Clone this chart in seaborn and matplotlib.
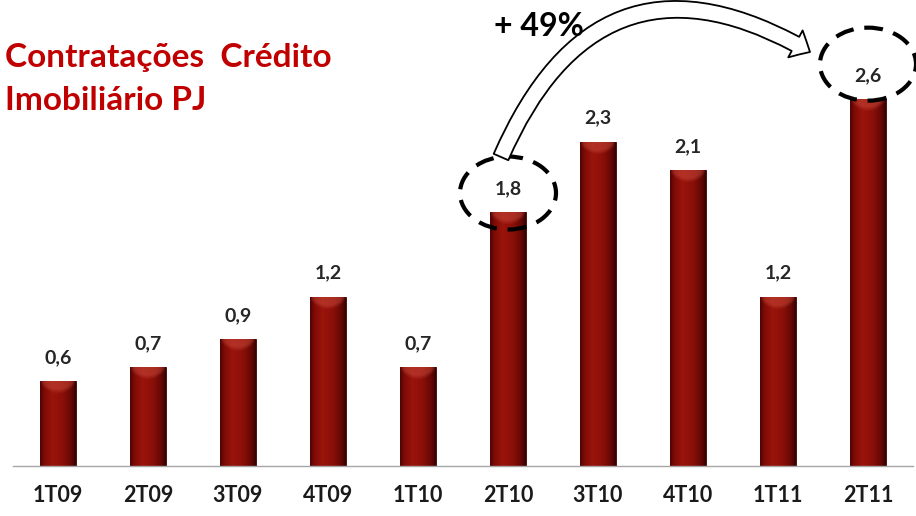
import numpy as np
import pandas as pd
import matplotlib
matplotlib.use("Agg")
import matplotlib.pyplot as plt
import seaborn as sns
from matplotlib.patches import Ellipse, FancyArrowPatch
from matplotlib.path import Path
from matplotlib.ticker import FixedLocator
from matplotlib.colors import to_rgb

# ---- data ----
categories = ["1T09", "2T09", "3T09", "4T09", "1T10", "2T10", "3T10", "4T10", "1T11", "2T11"]
values = [0.6, 0.7, 0.9, 1.2, 0.7, 1.8, 2.3, 2.1, 1.2, 2.6]
value_labels = ["0,6", "0,7", "0,9", "1,2", "0,7", "1,8", "2,3", "2,1", "1,2", "2,6"]
title_lines = ["Contratações  Crédito", "Imobiliário PJ"]
growth_text = "+ 49%"
highlight_from = "2T10"
highlight_to = "2T11"

sns.set_theme(style="white")
plt.rcParams["font.family"] = ["Lato", "DejaVu Sans"]

W, H = 916, 516
fig = plt.figure(figsize=(W / 100, H / 100), dpi=100)
px_per_unit = 141.0
base_y = 466
ax = fig.add_axes([13 / W, (H - base_y) / H, 900 / W, base_y / H])

df = pd.DataFrame({"cat": categories, "val": values})
sns.barplot(data=df, x="cat", y="val", color="#8a0d08", width=0.40,
            edgecolor="#3a0000", linewidth=0.6, ax=ax, zorder=2)

ymax = base_y / px_per_unit
ax.set_xlim(-0.5, len(categories) - 0.5)
ax.set_ylim(0, ymax)

# gradient overlay on each bar
def hex_rgb(h):
    return np.array(to_rgb(h))

stops_u = np.array([0.0, 0.12, 0.35, 0.65, 0.88, 1.0])
stops_c = np.array([hex_rgb(c) for c in ["#4e0403", "#7e0c07", "#9a140b", "#8a0f09", "#640805", "#380202"]])
u = np.linspace(0, 1, 60)
row = np.stack([np.interp(u, stops_u, stops_c[:, k]) for k in range(3)], axis=-1)
body = np.repeat(row[None, :, :], 50, axis=0)

cap_n = 40
uu, vv = np.meshgrid(np.linspace(0, 1, 60), np.linspace(0, 1, cap_n))
boundary = 0.25 + 0.55 * (1 - (2 * uu - 1) ** 2)
edge_fade = np.clip(1 - np.abs(2 * uu - 1) ** 6, 0, 1)
alpha = np.clip((boundary - vv) / 0.3, 0, 1) * 0.55 * edge_fade
cap = np.zeros((cap_n, 60, 4))
cap[..., :3] = hex_rgb("#c8483a")
cap[..., 3] = alpha

for p in list(ax.patches):
    x0, y0 = p.get_x(), p.get_y()
    w, h = p.get_width(), p.get_height()
    im = ax.imshow(body, extent=[x0, x0 + w, y0, y0 + h], aspect="auto",
                   origin="upper", zorder=2.1, interpolation="bilinear")
    im.set_clip_path(p)
    cap_h = 16 / px_per_unit
    im2 = ax.imshow(cap, extent=[x0, x0 + w, y0 + h - cap_h, y0 + h], aspect="auto",
                    origin="upper", zorder=2.2, interpolation="bilinear")
    im2.set_clip_path(p)

ax.set_xlim(-0.5, len(categories) - 0.5)
ax.set_ylim(0, ymax)

# value labels
for i, (v, lab) in enumerate(zip(values, value_labels)):
    ax.annotate(lab, (i, v), xytext=(0, 13), textcoords="offset points",
                ha="center", va="baseline", fontsize=14, fontweight="bold",
                color="#262626", zorder=5)

# axes styling
for s in ["top", "right", "left"]:
    ax.spines[s].set_visible(False)
ax.spines["bottom"].set_color("#a6a6a6")
ax.spines["bottom"].set_linewidth(1.0)
ax.set_yticks([])
ax.set_xlabel("")
ax.set_ylabel("")
ax.xaxis.set_minor_locator(FixedLocator(np.arange(-0.5, len(categories), 1.0)))
ax.tick_params(axis="x", which="minor", length=7.5, width=1.0, color="#a6a6a6", direction="out")
ax.tick_params(axis="x", which="major", length=0, pad=14)
for t in ax.get_xticklabels():
    t.set_fontsize(15.5)
    t.set_fontweight("bold")
    t.set_color("#1a1a1a")

# dashed ellipses around highlighted values
i_from = categories.index(highlight_from)
i_to = categories.index(highlight_to)
ell_w = 96 / 90.0
ell_h = 73 / px_per_unit
for idx, dy in [(i_from, 0.136), (i_to, 0.25)]:
    e = Ellipse((idx, values[idx] + dy), ell_w, ell_h, fill=False, edgecolor="black",
                linewidth=3.0, linestyle=(0, (4.5, 2.6)), zorder=6, clip_on=False)
    ax.add_patch(e)

# curved hollow arrow (quadratic bezier)
def px_to_data(xp, yp):
    return ((xp - 13) / 90.0 - 0.5, (base_y - yp) / px_per_unit)

P0 = px_to_data(501, 157)
C = px_to_data(600, -70)
P2 = px_to_data(810, 52)
path = Path([P0, C, P2], [Path.MOVETO, Path.CURVE3, Path.CURVE3])
arrow = FancyArrowPatch(path=path, arrowstyle="simple,head_length=1.2,head_width=2.2,tail_width=1.15",
                        mutation_scale=10, facecolor="white", edgecolor="black",
                        linewidth=1.3, zorder=7, clip_on=False, transform=ax.transData)
ax.add_patch(arrow)

# texts
fig.text(5 / W, 1 - 57 / H, title_lines[0], fontsize=24, fontweight="bold",
         color="#c00000", ha="left", va="center")
fig.text(5 / W, 1 - 101 / H, title_lines[1], fontsize=24, fontweight="bold",
         color="#c00000", ha="left", va="center")
fig.text(494 / W, 1 - 27 / H, growth_text, fontsize=23, fontweight="bold",
         color="black", ha="left", va="center")

fig.savefig("out.png", dpi=100, facecolor="white")
